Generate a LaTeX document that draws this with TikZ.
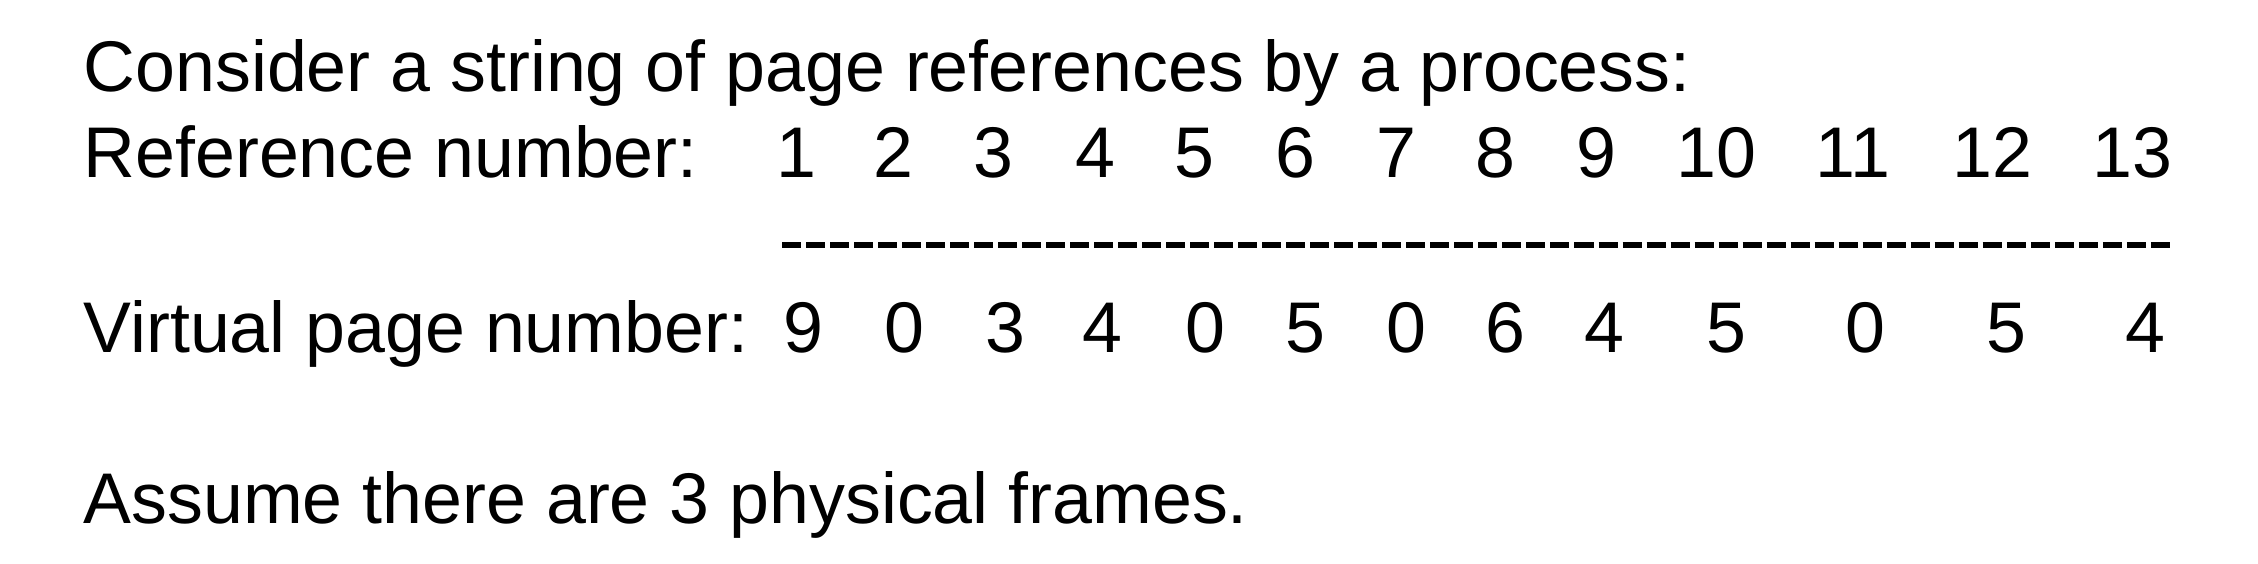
\documentclass[tikz,border=0pt]{standalone}
\usepackage{fontspec}
\setmainfont{Liberation Sans}
\usepackage{tikz}
\tikzset{txt/.style = {inner sep = 0, anchor = base west, font = \fontsize{20.4}{24}\selectfont}}
\tikzset{num/.style = {inner sep = 0, anchor = base, font = \fontsize{20.4}{24}\selectfont}}
\tikzset{rule/.style = {line width = 0.06cm, dash pattern = on 0.19cm off 0.05cm}}

\begin{document}
\begin{tikzpicture}[x=0.01cm, y=-0.01cm]
    \useasboundingbox (0, 0) rectangle (2258, 564);

    \node [txt] (head) at (83, 92) {Consider a string of page references by a process:};
    \node [txt] (reflabel) at (83, 178) {Reference number:};
    \node [txt] (vpnlabel) at (83, 352) {Virtual page number:};
    \node [txt] (foot) at (83, 523) {Assume there are 3 physical frames.};

    \foreach \x [count=\i] in {796, 893, 993, 1095, 1194, 1295, 1396, 1495, 1596, 1716, 1853, 1992, 2132}
      \node [num] (ref\i) at (\x, 178) {\i};

    \foreach \x/\p [count=\i] in {803/9, 904/0, 1005/3, 1102/4, 1205/0, 1305/5, 1406/0, 1505/6, 1604/4, 1726/5, 1865/0, 2006/5, 2145/4}
      \node [num] (vpn\i) at (\x, 352) {\p};

    \coordinate (rulestart) at (782, 245);
    \coordinate (ruleend) at (2170, 245);
    \draw [rule] (rulestart) -- (ruleend);
  \end{tikzpicture}
\end{document}
